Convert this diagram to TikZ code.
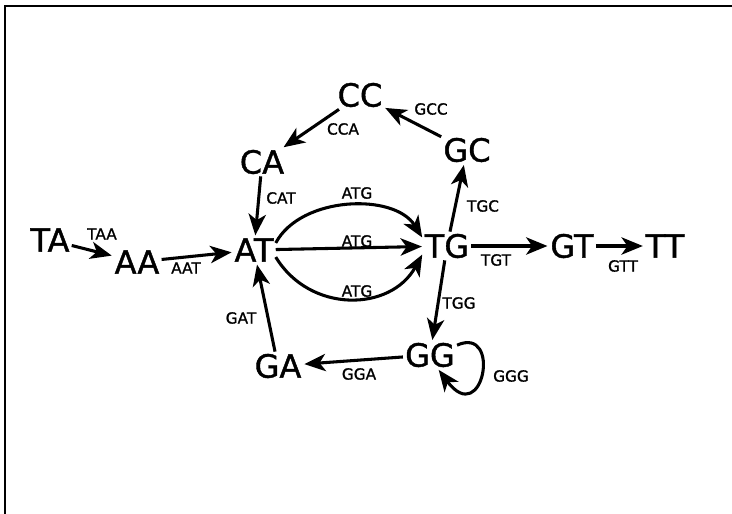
\documentclass[tikz,border=0pt]{standalone}
\usepackage{fontspec}
\setmainfont{DejaVu Sans}[FakeBold=1.2]
\usetikzlibrary{arrows.meta}
\begin{document}
\begin{tikzpicture}[x=0.75pt,y=-0.75pt,
  seq/.style={font=\fontsize{24}{24}\selectfont, inner sep=1.5pt},
  lab/.style={font=\fontsize{11.5}{12}\selectfont, inner sep=0pt},
  edge/.style={line width=2.3pt, -{Stealth[length=16pt,width=13pt,inset=4.5pt]}, shorten >=0.5pt}]
\useasboundingbox (0,0) rectangle (732,514);
\draw[line width=1.5pt] (5,514) -- (5,6) -- (732,6);
% nodes
\node[seq] (TA) at (50,240) {TA};
\node[seq] (AA) at (137,262) {AA};
\node[seq] (AT) at (254,250) {AT};
\node[seq] (CA) at (262,162) {CA};
\node[seq] (CC) at (360,95) {CC};
\node[seq] (GC) at (467,150) {GC};
\node[seq] (TG) at (447,246) {TG};
\node[seq] (GT) at (572,246) {GT};
\node[seq] (TT) at (665,246) {TT};
\node[seq] (GG) at (430,355) {GG};
\node[seq] (GA) at (278,366) {GA};
% labels
\node[lab] (lTAA) at (102,234) {TAA};
\node[lab] (lAAT) at (186,268) {AAT};
\node[lab] (lCAT) at (281,198) {CAT};
\node[lab] (lCCA) at (343,129) {CCA};
\node[lab] (lGCC) at (431,109) {GCC};
\node[lab] (lTGC) at (483,206) {TGC};
\node[lab] (lATG1) at (357,193) {ATG};
\node[lab] (lATG2) at (357,241) {ATG};
\node[lab] (lATG3) at (357,291) {ATG};
\node[lab] (lTGT) at (496,260) {TGT};
\node[lab] (lGTT) at (623,266) {GTT};
\node[lab] (lTGG) at (459,303) {TGG};
\node[lab] (lGGA) at (359,374) {GGA};
\node[lab] (lGGG) at (511,376) {GGG};
\node[lab] (lGAT) at (241,318) {GAT};
% edges
\draw[edge] (TA) -- (AA);
\draw[edge] (AA) -- (AT);
\draw[edge] (CA) -- (AT);
\draw[edge] (CC) -- (CA);
\draw[edge] (GC) -- (CC);
\draw[edge] (TG) -- (GC);
\draw[edge] (AT.18) to[bend left=60,looseness=0.93] (TG.162);
\draw[edge] (AT) -- (TG);
\draw[edge] (AT.-18) to[bend right=60,looseness=1.15] (TG.-162);
\draw[edge] (TG) -- (GT);
\draw[edge] (GT) -- (TT);
\draw[edge] (TG) -- (GG);
\draw[edge] (GG) -- (GA);
\draw[edge] (GA) -- (AT);
\draw[edge] (GG.20) .. controls +(45,-20) and +(45,60) .. (GG.-60);
\end{tikzpicture}
\end{document}
